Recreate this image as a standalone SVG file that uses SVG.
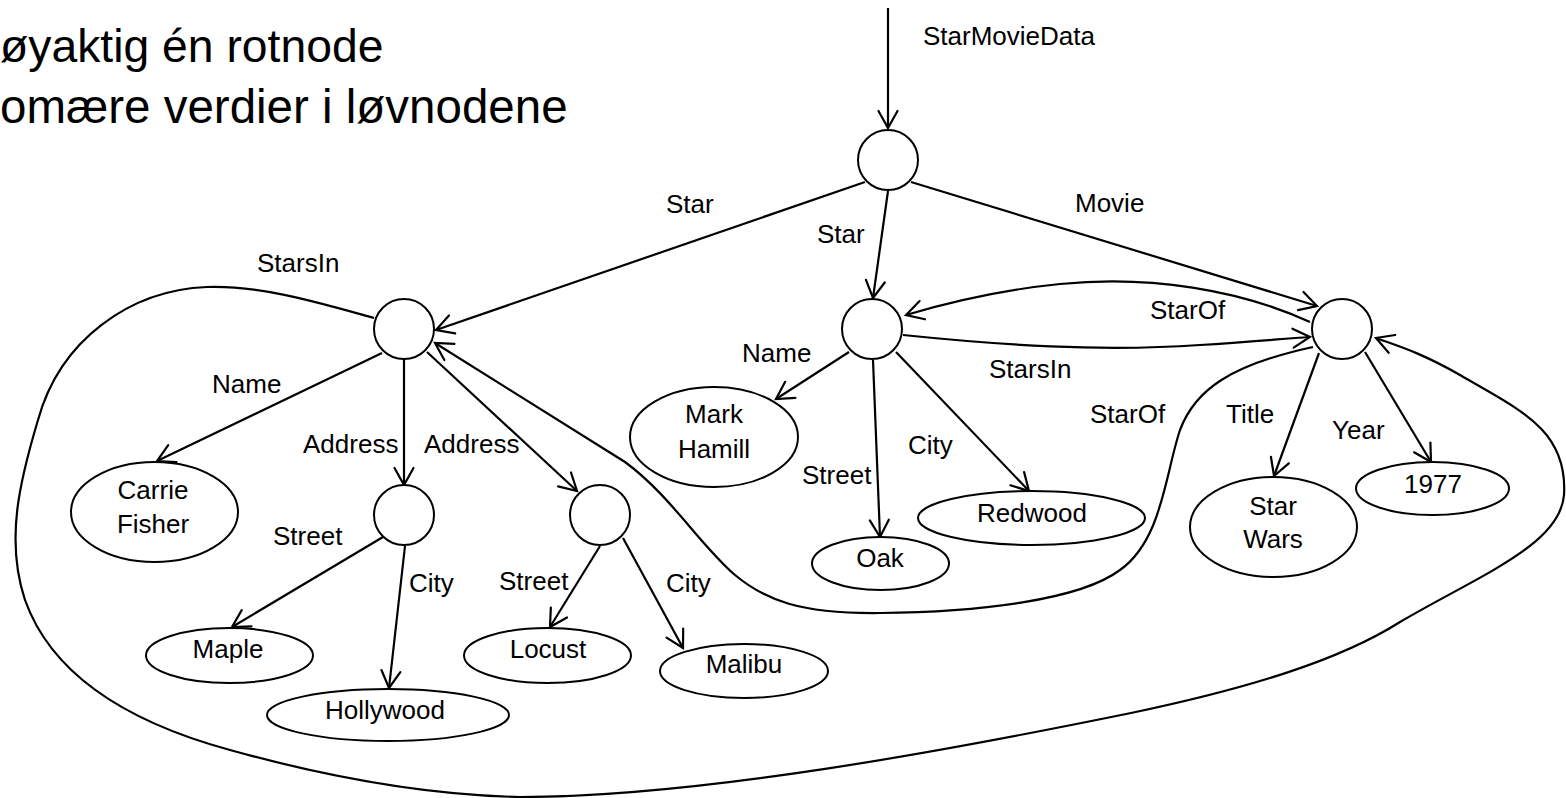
<svg xmlns="http://www.w3.org/2000/svg" width="1566" height="798" viewBox="0 0 1566 798">
<defs>
<marker id="arr" markerUnits="userSpaceOnUse" markerWidth="40" markerHeight="40" viewBox="-20 -20 40 40" refX="0" refY="0" orient="auto">
<path d="M -17,-9.5 L 0,0 L -17,9.5" fill="none" stroke="#000" stroke-width="2.2" stroke-linecap="round" stroke-linejoin="miter"/>
</marker>
</defs>
<style>
.n{fill:#fff;stroke:#000;stroke-width:2}
.e{fill:none;stroke:#000;stroke-width:2.2;marker-end:url(#arr)}
.t{font-family:"Liberation Sans",Arial,sans-serif;font-size:26px;fill:#000}
.c{text-anchor:middle}
.big{font-family:"Liberation Sans",Arial,sans-serif;font-size:47.5px;fill:#000}
</style>
<rect width="1566" height="798" fill="#fff"/>
<g id="heading">
<text class="big" x="0" y="62" style="font-size:46.3px">øyaktig én rotnode</text>
<text class="big" x="0" y="123">omære verdier i løvnodene</text>
</g>
<g id="connectors">
<path class="e" d="M 888,8 L 888,128"/>
<path class="e" d="M 865,182 L 436,330"/>
<path class="e" d="M 888,191 L 873,298"/>
<path class="e" d="M 911,182 L 1317,306"/>
<path class="e" d="M 382,353 L 157,461"/>
<path class="e" d="M 404,359 L 404,485"/>
<path class="e" d="M 427,352 L 577,491"/>
<path class="e" d="M 383,537 L 232,627"/>
<path class="e" d="M 405,546 L 389,688"/>
<path class="e" d="M 600,546 L 550,627"/>
<path class="e" d="M 623,538 L 683,648"/>
<path class="e" d="M 849,352 L 776,399"/>
<path class="e" d="M 873,360 L 880,537"/>
<path class="e" d="M 896,352 L 1029,491"/>
<path class="e" d="M 903,335 C 1000,345 1100,352 1200,345 C 1250,342 1280,339 1310,337"/>
<path class="e" d="M 1310,322 C 1240,290 1150,275 1060,284 C 1000,290 950,302 906,315"/>
<path class="e" d="M 1313,347 C 1230,365 1195,390 1180,430 C 1165,475 1162,540 1120,570 C 1080,600 980,612 880,613 C 800,614 765,600 735,575 C 700,545 670,495 625,462 L 435,343"/>
<path class="e" d="M 1319,353 L 1274,476"/>
<path class="e" d="M 1365,352 L 1431,462"/>
<path class="e" d="M 374,318 C 320,303 260,285 207,287 C 130,290 60,340 38,420 C 20,480 5,540 25,600 C 50,670 120,720 230,750 C 320,775 420,795 520,797 C 700,797 950,750 1131,713 C 1250,688 1340,660 1400,622 C 1480,575 1560,545 1564,495 C 1568,430 1520,410 1460,375 C 1420,352 1395,345 1376,338"/>
</g>
<g id="labels">
<text class="t" x="923" y="45">StarMovieData</text>
<text class="t" x="666" y="213">Star</text>
<text class="t" x="817" y="243">Star</text>
<text class="t" x="1075" y="212">Movie</text>
<text class="t" x="257" y="272">StarsIn</text>
<text class="t" x="1150" y="319">StarOf</text>
<text class="t" x="212" y="393">Name</text>
<text class="t" x="742" y="362">Name</text>
<text class="t" x="989" y="378">StarsIn</text>
<text class="t" x="1090" y="423">StarOf</text>
<text class="t" x="1226" y="423">Title</text>
<text class="t" x="1332" y="439">Year</text>
<text class="t" x="908" y="454">City</text>
<text class="t" x="303" y="453">Address</text>
<text class="t" x="424" y="453">Address</text>
<text class="t" x="802" y="484">Street</text>
<text class="t" x="273" y="545">Street</text>
<text class="t" x="409" y="592">City</text>
<text class="t" x="499" y="590">Street</text>
<text class="t" x="666" y="592">City</text>
</g>
<g id="root"><circle class="n" cx="888" cy="160" r="30"/></g>
<g id="star1"><circle class="n" cx="404" cy="329" r="30"/></g>
<g id="star2"><circle class="n" cx="872" cy="329" r="30"/></g>
<g id="movie"><circle class="n" cx="1342" cy="329" r="30"/></g>
<g id="addr1"><circle class="n" cx="404" cy="515" r="30"/></g>
<g id="addr2"><circle class="n" cx="600" cy="515" r="30"/></g>
<g id="carrie"><ellipse class="n" cx="154.5" cy="512" rx="83.5" ry="50"/><text class="t c" x="153" y="499">Carrie</text><text class="t c" x="153" y="533">Fisher</text></g>
<g id="mark"><ellipse class="n" cx="714" cy="437" rx="84" ry="50"/><text class="t c" x="714" y="423">Mark</text><text class="t c" x="714" y="458">Hamill</text></g>
<g id="starwars"><ellipse class="n" cx="1273.5" cy="527" rx="83.5" ry="50"/><text class="t c" x="1273" y="515">Star</text><text class="t c" x="1273" y="548">Wars</text></g>
<g id="y1977"><ellipse class="n" cx="1432.5" cy="488.5" rx="76.5" ry="26.5"/><text class="t c" x="1433" y="493">1977</text></g>
<g id="redwood"><ellipse class="n" cx="1031.5" cy="518" rx="113.5" ry="27"/><text class="t c" x="1032" y="522">Redwood</text></g>
<g id="oak"><ellipse class="n" cx="880.5" cy="563.5" rx="68.5" ry="26.5"/><text class="t c" x="880" y="567">Oak</text></g>
<g id="maple"><ellipse class="n" cx="229.5" cy="655.5" rx="83.5" ry="27.5"/><text class="t c" x="228" y="658">Maple</text></g>
<g id="hollywood"><ellipse class="n" cx="388" cy="715" rx="121" ry="26"/><text class="t c" x="385" y="719">Hollywood</text></g>
<g id="locust"><ellipse class="n" cx="547.5" cy="655.5" rx="83.5" ry="27.5"/><text class="t c" x="548" y="658">Locust</text></g>
<g id="malibu"><ellipse class="n" cx="744" cy="671" rx="84" ry="27"/><text class="t c" x="744" y="673">Malibu</text></g>
</svg>
